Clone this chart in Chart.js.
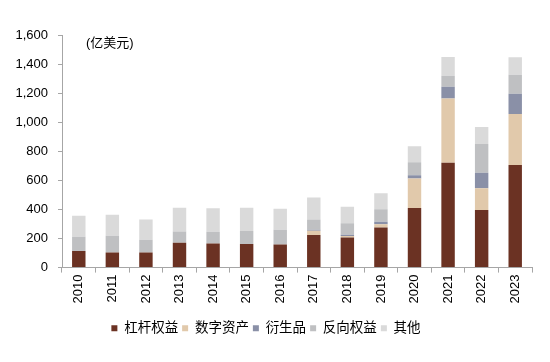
<!DOCTYPE html>
<html>
<head>
<meta charset="utf-8">
<script src="https://cdn.jsdelivr.net/npm/chart.js@4/dist/chart.umd.min.js"></script>
<style>
  html, body { margin: 0; padding: 0; background: #fff; }
  #wrap { width: 550px; height: 362px; }
</style>
</head>
<body>
<div id="wrap"><canvas id="myChart" width="550" height="362"></canvas></div>
<script>
'use strict';

// categories (years)
var years = ['2010', '2011', '2012', '2013', '2014', '2015', '2016', '2017', '2018', '2019', '2020', '2021', '2022', '2023'];

// series values, 亿美元
var leveraged = [115, 104, 104, 171, 166, 162, 159, 224, 208, 277, 411, 723, 397, 707];
var digital = [0, 0, 0, 0, 0, 0, 0, 30, 9, 21, 203, 443, 150, 351];
var derivatives = [0, 0, 0, 0, 0, 0, 0, 7, 9, 18, 23, 81, 106, 140];
var inverse = [97, 115, 88, 78, 81, 90, 102, 71, 79, 86, 90, 76, 199, 132];
var others = [146, 146, 140, 164, 162, 161, 145, 151, 115, 111, 109, 129, 118, 120];

var seriesNames = ['杠杆权益', '数字资产', '衍生品', '反向权益', '其他'];
var seriesColors = ['#6B3223', '#E1C9AB', '#8A90A7', '#BFC0C2', '#DADADA'];

// y axis ticks
var yMax = 1600;
var yStep = 200;
var unitLabel = '(亿美元)';

var fontFamily = "Arial, 'Liberation Sans', 'Noto Sans CJK SC', sans-serif";
var axisColor = '#A6A6A6';

function makeDataset(i, values) {
  return {
    label: seriesNames[i],
    data: values,
    backgroundColor: seriesColors[i],
    borderWidth: 0,
    barPercentage: 0.4,
    categoryPercentage: 1.0
  };
}

// draws the unit text in the top left of the plot
var unitPlugin = {
  id: 'unitText',
  afterDraw: function (chart) {
    var ctx = chart.ctx;
    ctx.save();
    ctx.fillStyle = '#000';
    ctx.font = '13px ' + fontFamily;
    ctx.textBaseline = 'middle';
    ctx.fillText(unitLabel, 86, 43);
    ctx.restore();
  }
};

var ctx = document.getElementById('myChart').getContext('2d');
var chart = new Chart(ctx, {
  type: 'bar',
  data: {
    labels: years,
    datasets: [
      makeDataset(0, leveraged),
      makeDataset(1, digital),
      makeDataset(2, derivatives),
      makeDataset(3, inverse),
      makeDataset(4, others)
    ]
  },
  options: {
    responsive: false,
    animation: false,
    layout: { padding: { top: 35.5, right: 18, left: 0, bottom: 17 } },
    scales: {
      x: {
        stacked: true,
        grid: { drawOnChartArea: false, color: axisColor, tickLength: 5, offset: true },
        border: { color: axisColor, width: 1 },
        ticks: {
          color: '#000',
          font: { family: fontFamily, size: 13 },
          minRotation: 90,
          maxRotation: 90,
          padding: 2
        },
        // extra room between year labels and legend
        afterFit: function (scale) { scale.height += 12; }
      },
      y: {
        stacked: true,
        min: 0,
        max: yMax,
        grid: { drawOnChartArea: false, color: axisColor, tickLength: 4 },
        border: { color: axisColor, width: 1 },
        ticks: {
          stepSize: yStep,
          color: '#000',
          font: { family: fontFamily, size: 13 },
          padding: 10,
          callback: function (v) { return v.toLocaleString('en-US'); }
        },
        afterFit: function (scale) { scale.width = 62; }
      }
    },
    plugins: {
      legend: {
        position: 'bottom',
        labels: {
          color: '#000',
          font: { family: fontFamily, size: 13.5 },
          boxWidth: 6,
          boxHeight: 6,
          padding: 4
        }
      },
      tooltip: { enabled: false }
    }
  },
  plugins: [unitPlugin]
});
</script>
</body>
</html>
